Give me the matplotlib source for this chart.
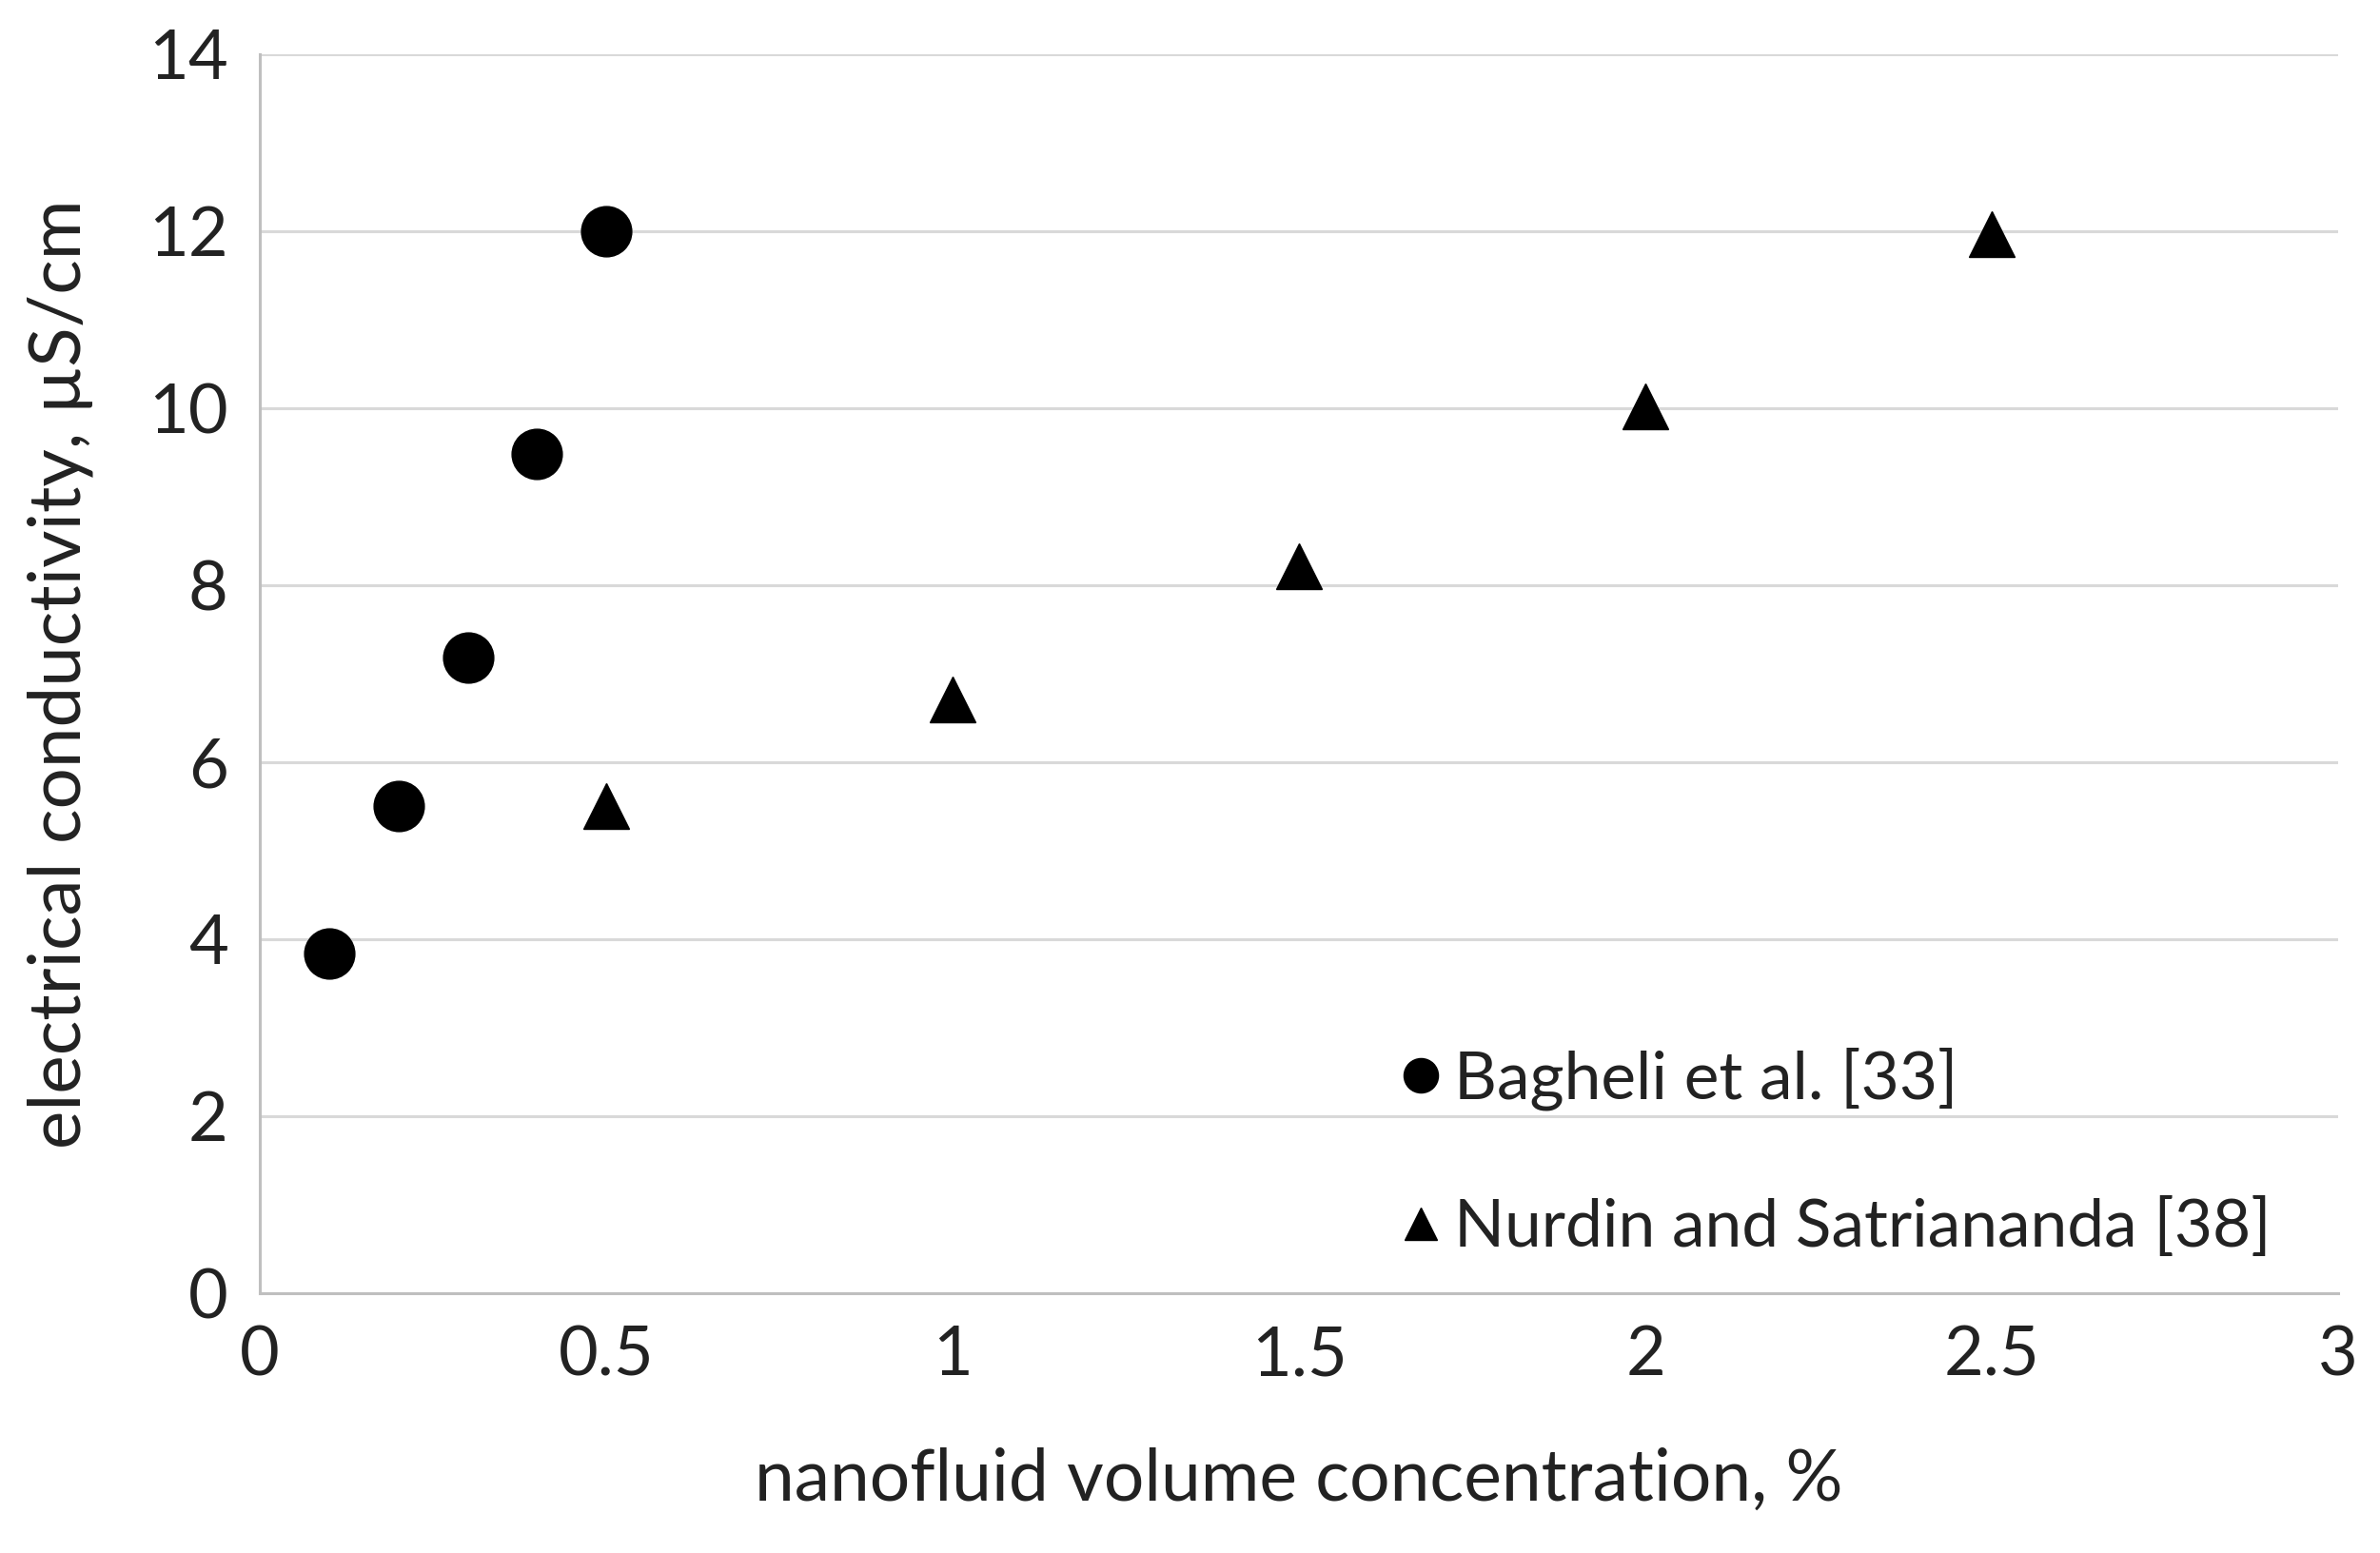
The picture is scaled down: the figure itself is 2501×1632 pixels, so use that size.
import matplotlib
matplotlib.use("Agg")
import matplotlib.pyplot as plt
from matplotlib.lines import Line2D

plt.rcParams["font.family"] = ["Lato", "DejaVu Sans"]

# Bagheli et al. [33]
bagheli_x = [0.1, 0.2, 0.3, 0.4, 0.5]
bagheli_y = [3.84, 5.50, 7.18, 9.48, 12.0]

# Nurdin and Satriananda [38]
nurdin_x = [0.5, 1.0, 1.5, 2.0, 2.5]
nurdin_y = [5.50, 6.71, 8.22, 10.02, 11.97]

x_ticks = [0, 0.5, 1, 1.5, 2, 2.5, 3]
x_labels = ["0", "0.5", "1", "1.5", "2", "2.5", "3"]
y_ticks = [0, 2, 4, 6, 8, 10, 12, 14]

fig = plt.figure(figsize=(25.01, 16.32), dpi=100)
ax = fig.add_axes([0.1092, 0.1673, 0.8733, 0.7978])

ax.plot(bagheli_x, bagheli_y, "o", color="black", ms=38, ls="none",
        label="Bagheli et al. [33]", zorder=3)
ax.plot(nurdin_x, nurdin_y, "^", color="black", ms=34, ls="none",
        label="Nurdin and Satriananda [38]", zorder=3)

ax.set_xlim(0, 3)
ax.set_ylim(0, 14)
ax.set_xticks(x_ticks)
ax.set_xticklabels(x_labels)
ax.set_yticks(y_ticks)
ax.tick_params(length=0, labelsize=52, colors="#222222", pad=24)
ax.yaxis.grid(True, color="#d9d9d9", lw=2.2)
ax.set_axisbelow(True)
for s in ("top", "right"):
    ax.spines[s].set_visible(False)
for s in ("left", "bottom"):
    ax.spines[s].set_color("#bfbfbf")
    ax.spines[s].set_linewidth(2.2)

ax.set_xlabel("nanofluid volume concentration, %", fontsize=54,
              color="#222222", labelpad=46)
ax.set_ylabel("electrical conductivity, µS/cm", fontsize=55,
              color="#222222", labelpad=42)

handles = [
    Line2D([], [], marker="o", color="black", ls="none", ms=26),
    Line2D([], [], marker="^", color="black", ls="none", ms=24),
]
ax.legend(handles, ["Bagheli et al. [33]", "Nurdin and Satriananda [38]"],
          loc="upper left", bbox_to_anchor=(0.530, 0.220), frameon=False,
          fontsize=50, labelspacing=1.32, handletextpad=0.0,
          handlelength=1.0, borderaxespad=0, labelcolor="#222222")

fig.savefig("out.png", dpi=100)
